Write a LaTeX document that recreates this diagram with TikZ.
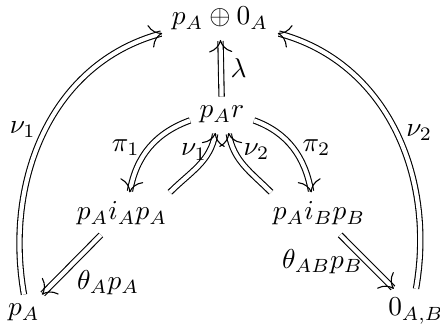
\documentclass[tikz,border=0pt]{standalone}
\usepackage{amsmath,amssymb}
\usepackage{tikz}
\usetikzlibrary{arrows.meta}

\begin{document}
\begin{tikzpicture}[x=0.366pt, y=0.366pt,
  obj/.style={anchor=base},
  impl/.style={double, double equal sign distance,
    -{Computer Modern Rightarrow[length=4.5pt, width=8.5pt, line width=0.4pt]}}]
  \useasboundingbox (0,0) rectangle (440,326);
  \node[obj] (top) at (220,301) {$p_A \oplus 0_A$};
  \node[obj] (par) at (222,208) {$p_A r$};
  \node[obj] (iA) at (122,106) {$p_A i_A p_A$};
  \node[obj] (iB) at (319,106) {$p_A i_B p_B$};
  \node[obj] (pA) at (24,10) {$p_A$};
  \node[obj] (zero) at (416,10) {$0_{A,B}$};

  \draw[impl] (par) -- node[right] {$\lambda$} (top);
  \draw[impl] (par.190) to[out=200, in=80] node[left] {$\pi_1$} (iA.70);
  \draw[impl] (iA.24) to[out=45, in=260] node[pos=0.74, left, inner sep=0.5pt] {$\nu_1$} (par.250);
  \draw[impl] (iB.156) to[out=135, in=280] node[pos=0.74, right, inner sep=3pt] {$\nu_2$} (par.290);
  \draw[impl] (par.350) to[out=-20, in=100] node[right] {$\pi_2$} (iB.110);
  \draw[impl] (iA) -- node[pos=0.8, right=5pt] {$\theta_A p_A$} (pA);
  \draw[impl] (iB) -- node[left, xshift=2pt] {$\theta_{AB} p_B$} (zero);
  \draw[impl] (pA.north) to[out=100, in=195] node[pos=0.51, left] {$\nu_1$} (top.194);
  \draw[impl] (zero.north) to[out=80, in=-15] node[pos=0.49, right] {$\nu_2$} (top.346);
\end{tikzpicture}
\end{document}
